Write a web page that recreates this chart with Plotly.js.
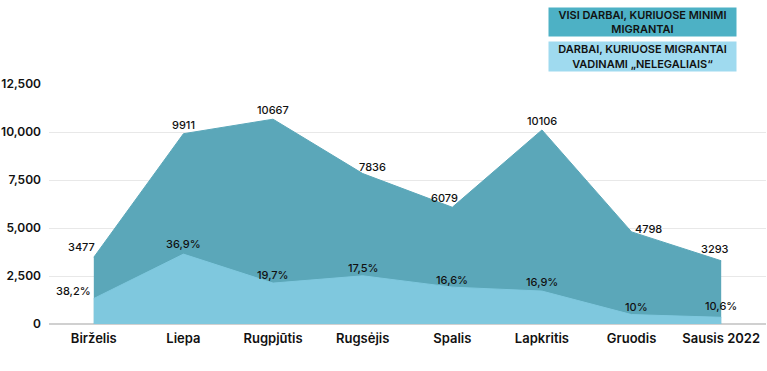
<!DOCTYPE html>
<html>
<head>
<meta charset="utf-8">
<script src="https://cdn.plot.ly/plotly-3.0.1.min.js"></script>
<style>html,body{margin:0;padding:0;background:#fff;}#chart{width:767px;height:371px;}</style>
</head>
<body>
<div id="chart"></div>
<script>
// Data
var months = ["Birželis", "Liepa", "Rugpjūtis", "Rugsėjis", "Spalis", "Lapkritis", "Gruodis", "Sausis 2022"];
var allJobs = [3477, 9911, 10667, 7836, 6079, 10106, 4798, 3293];
var illegalJobs = [1328, 3640, 2130, 2510, 1920, 1715, 490, 349];
var illegalPctLabels = ["38,2%", "36,9%", "19,7%", "17,5%", "16,6%", "16,9%", "10%", "10,6%"];
var yTicks = [0, 2500, 5000, 7500, 10000, 12500];
var yTickLabels = ["0", "2,500", "5,000", "7,500", "10,000", "12,500"];
var legendAll = "VISI DARBAI, KURIUOSE MINIMI<br>MIGRANTAI";
var legendIllegal = "DARBAI, KURIUOSE MIGRANTAI<br>VADINAMI „NELEGALIAIS“";

// Styles (label offsets in px)
var totalShift = [[-12, 10], [0, 9], [0, 9], [10, 7], [-8, 9], [0, 9], [17, 3], [-6, 12]];
var pctShift = [[-20, 8], [0, 10], [0, 8], [0, 8], [0, 7], [0, 9], [5, 8], [0, 11]];
var FONT = "Inter, 'Open Sans', sans-serif";

var traces = [
  {x: months, y: allJobs, type: "scatter", mode: "lines", fill: "tozeroy",
   fillcolor: "#5ba7b9", line: {color: "#5ba7b9", width: 1}, hoverinfo: "skip"},
  {x: months, y: illegalJobs, type: "scatter", mode: "lines", fill: "tozeroy",
   fillcolor: "#7fc8de", line: {color: "#7fc8de", width: 1}, hoverinfo: "skip"}
];

var ann = [];
months.forEach(function (m, i) {
  ann.push({x: m, y: allJobs[i], text: String(allJobs[i]), showarrow: false,
    xref: "x", yref: "y", xshift: totalShift[i][0], yshift: totalShift[i][1],
    font: {family: FONT, size: 11, color: "#111", weight: 500}});
  ann.push({x: m, y: illegalJobs[i], text: illegalPctLabels[i], showarrow: false,
    xref: "x", yref: "y", xshift: pctShift[i][0], yshift: pctShift[i][1],
    font: {family: FONT, size: 11, color: "#111", weight: 500}});
});
ann.push({xref: "paper", yref: "paper", x: 0.696, y: 1.258, xanchor: "left", yanchor: "middle",
  text: legendAll, showarrow: false, bgcolor: "#4db1c5", width: 187, height: 28, borderpad: 0, align: "center",
  font: {family: FONT, size: 11, color: "#111", weight: 600}});
ann.push({xref: "paper", yref: "paper", x: 0.696, y: 1.115, xanchor: "left", yanchor: "middle",
  text: legendIllegal, showarrow: false, bgcolor: "#9fdaef", width: 187, height: 29, borderpad: 0, align: "center",
  font: {family: FONT, size: 11, color: "#111", weight: 600}});

var layout = {
  width: 767, height: 371,
  margin: {l: 49, r: 1, t: 84, b: 47},
  paper_bgcolor: "#fff", plot_bgcolor: "#fff",
  showlegend: false,
  xaxis: {type: "category", range: [-0.5, 7.5], showgrid: false, zeroline: false, showline: false,
    ticks: "", ticklabelstandoff: 5, tickfont: {family: FONT, size: 13, color: "#111", weight: 600}, fixedrange: true},
  yaxis: {range: [0, 12500], tickvals: yTicks, ticktext: yTickLabels, showgrid: true,
    gridcolor: "#e8e8e8", gridwidth: 1, zeroline: true, zerolinecolor: "#d0d0d0", zerolinewidth: 2,
    ticks: "", ticklabelstandoff: 7, tickfont: {family: FONT, size: 12, color: "#111", weight: 600}, fixedrange: true},
  annotations: ann
};

Plotly.newPlot("chart", traces, layout, {displayModeBar: false, staticPlot: true});
</script>
</body>
</html>
